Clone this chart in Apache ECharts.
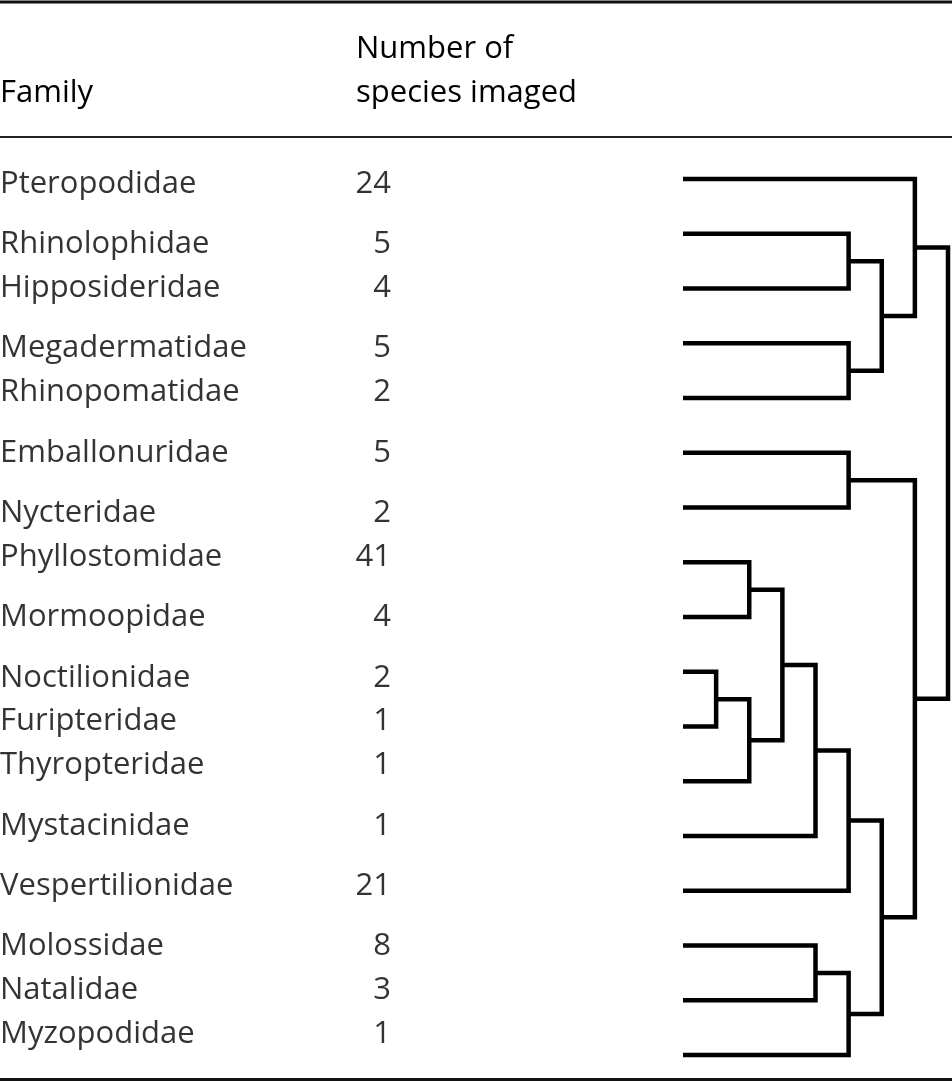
<!DOCTYPE html>
<html><head><meta charset="utf-8">
<script src="https://cdn.jsdelivr.net/npm/echarts@6/dist/echarts.min.js"></script>
<style>html,body{margin:0;padding:0;background:#fff}#chart{width:952px;height:1082px}</style>
</head><body><div id="chart"></div>
<script>
// ---- data ----
const families = ['Pteropodidae','Rhinolophidae','Hipposideridae','Megadermatidae','Rhinopomatidae',
  'Emballonuridae','Nycteridae','Phyllostomidae','Mormoopidae','Noctilionidae','Furipteridae',
  'Thyropteridae','Mystacinidae','Vespertilionidae','Molossidae','Natalidae','Myzopodidae'];
const speciesCounts = [24,5,4,5,2,5,2,41,4,2,1,1,1,21,8,3,1];
// table blocks: rows sharing a block are set tight together
const rowBlocks = [0,1,1,2,2,3,4,4,5,6,6,6,7,8,9,9,9];
const headerFamily = 'Family';
const headerCount = ['Number of', 'species imaged'];
// dendrogram merges [childA, childB, level]; leaves 0..16 in row order, new nodes numbered 17+
const merges = [
  [1,2,5],[3,4,5],[17,18,6],[0,19,7],
  [5,6,5],[7,8,2],[9,10,1],[23,11,2],[22,24,3],[25,12,4],[26,13,5],
  [14,15,4],[28,16,5],[27,29,6],[21,30,7],[20,31,8]
];

// ---- build ----
const FONT = '"Open Sans", "Noto Sans", sans-serif';
const FS = 31;
const FW = 500;
const GAP = 0.3835;
const rowPos = families.map((_, i) => i + GAP * rowBlocks[i]);
const nameData = families.map((f, i) => ({ value: [0, rowPos[i]], label: { formatter: f } }));
const countData = speciesCounts.map((c, i) => ({ value: [1, rowPos[i]], label: { formatter: String(c) } }));

const nodeY = families.map((_, i) => i);
const nodeH = families.map(() => 0);
const segs = [];
merges.forEach(([a, b, h]) => {
  segs.push([nodeH[a], nodeY[a], nodeH[b], nodeY[b], h]);
  nodeY.push((nodeY[a] + nodeY[b]) / 2);
  nodeH.push(h);
});
const maxLevel = Math.max(...merges.map(m => m[2]));

const chart = echarts.init(document.getElementById('chart'), null, { renderer: 'canvas' });
const textStyle = { color: '#000', fontFamily: FONT, fontSize: FS, fontWeight: FW };
const headFont = FW + ' ' + FS + 'px ' + FONT;
chart.setOption({
  animation: false,
  backgroundColor: '#fff',
  grid: [
    { left: 0, width: 391, top: 184, height: 850 },
    { left: 683, width: 265, top: 179, height: 876 }
  ],
  xAxis: [
    { gridIndex: 0, type: 'value', min: 0, max: 1, show: false },
    { gridIndex: 1, type: 'value', min: 0, max: maxLevel, show: false }
  ],
  yAxis: [
    { gridIndex: 0, type: 'value', min: 0, max: rowPos[rowPos.length - 1], inverse: true, show: false },
    { gridIndex: 1, type: 'value', min: 0, max: families.length - 1, inverse: true, show: false }
  ],
  graphic: [
    { type: 'rect', shape: { x: 0, y: 0.5, width: 952, height: 3 }, style: { fill: '#111' } },
    { type: 'rect', shape: { x: 0, y: 136, width: 952, height: 2 }, style: { fill: '#222' } },
    { type: 'rect', shape: { x: 0, y: 1078, width: 952, height: 3 }, style: { fill: '#111' } },
    { type: 'text', x: 0, y: 93, style: { text: headerFamily, fill: '#000', font: headFont, align: 'left', verticalAlign: 'middle' } },
    { type: 'text', x: 356, y: 49, style: { text: headerCount[0], fill: '#000', font: headFont, align: 'left', verticalAlign: 'middle' } },
    { type: 'text', x: 356, y: 93, style: { text: headerCount[1], fill: '#000', font: headFont, align: 'left', verticalAlign: 'middle' } }
  ],
  series: [
    {
      type: 'scatter', xAxisIndex: 0, yAxisIndex: 0, symbolSize: 0, silent: true,
      data: nameData,
      label: { show: true, position: 'inside', align: 'left', verticalAlign: 'middle', ...textStyle }
    },
    {
      type: 'scatter', xAxisIndex: 0, yAxisIndex: 0, symbolSize: 0, silent: true,
      data: countData,
      label: { show: true, position: 'inside', align: 'right', verticalAlign: 'middle', ...textStyle }
    },
    {
      type: 'custom', xAxisIndex: 1, yAxisIndex: 1, clip: false, silent: true,
      data: segs,
      renderItem(params, api) {
        const p1 = api.coord([api.value(0), api.value(1)]);
        const p2 = api.coord([api.value(4), api.value(1)]);
        const p3 = api.coord([api.value(4), api.value(3)]);
        const p4 = api.coord([api.value(2), api.value(3)]);
        return {
          type: 'polyline',
          shape: { points: [p1, p2, p3, p4] },
          style: { stroke: '#000', lineWidth: 4.5, fill: null, lineJoin: 'miter', lineCap: 'butt' }
        };
      }
    }
  ]
});
</script>
</body></html>
